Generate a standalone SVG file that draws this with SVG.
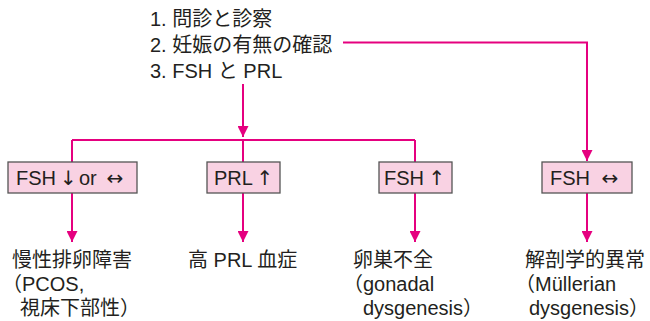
<svg xmlns="http://www.w3.org/2000/svg" width="650" height="321" viewBox="0 0 650 321">
<defs>
<style>
.t{font-family:"Liberation Sans","Noto Sans CJK JP",sans-serif;font-size:20px;fill:#231f20}
.a{font-family:"DejaVu Sans",sans-serif;font-size:20px;fill:#231f20;text-anchor:middle}
.box{fill:#f9d2e3;stroke:#555;stroke-width:1.3}
.ln{stroke:#e5007f;stroke-width:2;fill:none}
</style>
<marker id="ah" viewBox="0 0 10 10" refX="10" refY="5" markerWidth="5.5" markerHeight="5.5" orient="auto" markerUnits="strokeWidth">
<path d="M0,0 L10,5 L0,10 z" fill="#e5007f"/>
</marker>
</defs>
<rect width="650" height="321" fill="#fff"/>
<g id="start">
<text class="t" x="150" y="26">1. 問診と診察</text>
<text class="t" x="150" y="52">2. 妊娠の有無の確認</text>
<text class="t" x="150" y="78">3. FSH と PRL</text>
</g>
<g id="connectors">
<path class="ln" d="M243,84 V137" marker-end="url(#ah)"/>
<path class="ln" d="M72,140 H415"/>
<path class="ln" d="M72,140 V162 M243,140 V162 M415,140 V162"/>
<path class="ln" d="M343,42.5 H587 V161" marker-end="url(#ah)"/>
<path class="ln" d="M72,193 V242" marker-end="url(#ah)"/>
<path class="ln" d="M243,193 V242" marker-end="url(#ah)"/>
<path class="ln" d="M415,193 V242" marker-end="url(#ah)"/>
<path class="ln" d="M587,193 V242" marker-end="url(#ah)"/>
</g>
<g id="n1">
<rect class="box" x="8" y="162" width="129" height="31"/>
<text class="t" x="16" y="185">FSH</text>
<text class="a" x="68.5" y="185">↓</text>
<text class="t" x="79" y="185">or</text>
<text class="a" x="115" y="185">↔</text>
</g>
<g id="n2">
<rect class="box" x="207" y="162" width="73" height="31"/>
<text class="t" x="214" y="185">PRL</text>
<text class="a" x="265" y="185">↑</text>
</g>
<g id="n3">
<rect class="box" x="379" y="162" width="73" height="31"/>
<text class="t" x="384" y="185">FSH</text>
<text class="a" x="437" y="185">↑</text>
</g>
<g id="n4">
<rect class="box" x="542" y="162" width="90" height="31"/>
<text class="t" x="550" y="185">FSH</text>
<text class="a" x="610" y="185">↔</text>
</g>
<g id="r1">
<text class="t" x="12" y="267">慢性排卵障害</text>
<text class="t" x="2" y="291">（PCOS,</text>
<text class="t" x="20" y="315">視床下部性）</text>
</g>
<g id="r2">
<text class="t" x="188" y="267">高 PRL 血症</text>
</g>
<g id="r3">
<text class="t" x="353" y="267">卵巣不全</text>
<text class="t" x="343" y="291">（gonadal</text>
<text class="t" x="363" y="315">dysgenesis）</text>
</g>
<g id="r4">
<text class="t" x="525" y="267">解剖学的異常</text>
<text class="t" x="515" y="291">（Müllerian</text>
<text class="t" x="529" y="315">dysgenesis）</text>
</g>
</svg>
